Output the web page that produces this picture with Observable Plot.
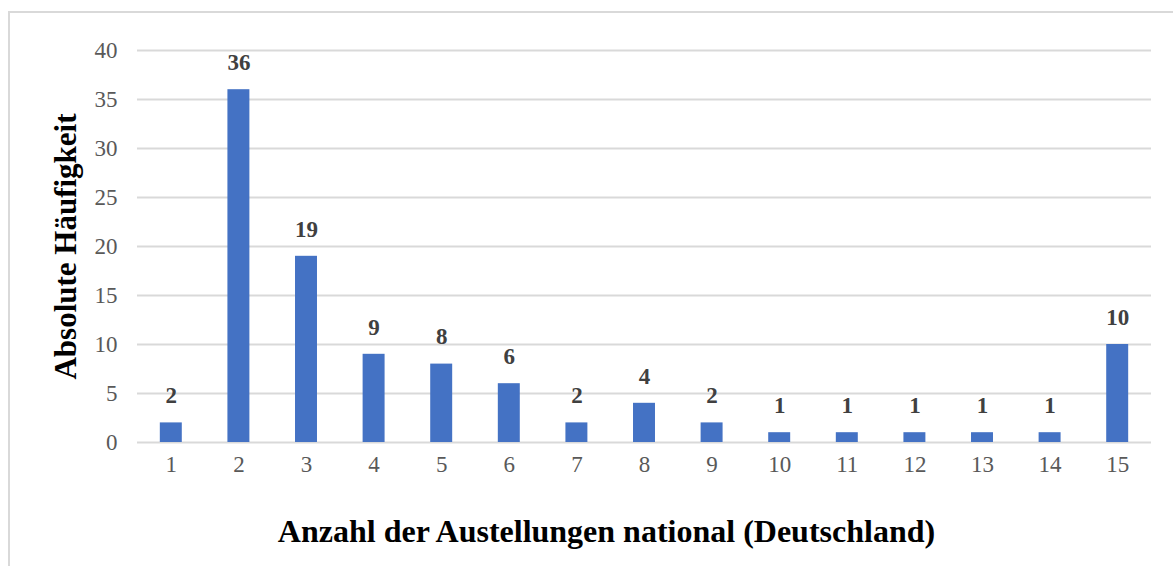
<!DOCTYPE html>
<html>
<head>
<meta charset="utf-8">
<script src="https://cdn.jsdelivr.net/npm/d3@7"></script>
<script src="https://cdn.jsdelivr.net/npm/@observablehq/plot@0.6"></script>
<style>
  html, body { margin: 0; padding: 0; background: #ffffff; }
  #wrap { position: relative; width: 1173px; height: 566px; overflow: hidden; }
  #border { position: absolute; left: 8px; top: 11px; right: -10px; bottom: -10px;
            border-left: 2px solid #d9d9d9; border-top: 2px solid #d9d9d9; pointer-events: none; }
  svg { font-family: "Liberation Serif", "Times New Roman", serif; }
</style>
</head>
<body>
<div id="wrap"><div id="border"></div></div>
<script>
const categories = ["1","2","3","4","5","6","7","8","9","10","11","12","13","14","15"];
const values = [2, 36, 19, 9, 8, 6, 2, 4, 2, 1, 1, 1, 1, 1, 10];
const yTicks = [0, 5, 10, 15, 20, 25, 30, 35, 40];
const xTitle = "Anzahl der Austellungen national (Deutschland)";
const yTitle = "Absolute Häufigkeit";

const data = categories.map((c, i) => ({cat: c, value: values[i]}));

const chart = Plot.plot({
  width: 1173,
  height: 566,
  marginLeft: 137,
  marginRight: 22,
  marginTop: 50,
  marginBottom: 124,
  style: {fontFamily: "'Liberation Serif', 'Times New Roman', serif", background: "transparent"},
  x: {domain: categories, paddingInner: 0.675, paddingOuter: 0.3375, round: false, axis: null},
  y: {domain: [0, 40], axis: null},
  marks: [
    Plot.gridY(yTicks, {stroke: "#d9d9d9", strokeOpacity: 1, strokeWidth: 2}),
    Plot.barY(data, {x: "cat", y: "value", fill: "#4472C4"}),
    Plot.text(data, {x: "cat", y: "value", text: d => String(d.value), dy: -27,
      fontSize: 23, fontWeight: "bold", fill: "#404040"}),
    Plot.axisY({ticks: yTicks, tickSize: 0, tickPadding: 20, fontSize: 23, fill: "#595959",
      label: null}),
    Plot.axisY({ticks: [], label: yTitle, labelAnchor: "center", labelOffset: 84,
      labelArrow: "none", fontSize: 31, fontWeight: "bold", fill: "#000000"}),
    Plot.axisX({tickSize: 0, tickPadding: 13, fontSize: 23, fill: "#595959", label: null}),
    Plot.text([xTitle], {frameAnchor: "bottom", text: d => d, dy: 89, dx: -38,
      lineAnchor: "middle", textAnchor: "middle",
      fontSize: 32, fontWeight: "bold", fill: "#000000"})
  ]
});
document.getElementById("wrap").appendChild(chart);
chart.style.position = "absolute";
chart.style.left = "0px";
chart.style.top = "0px";
</script>
</body>
</html>
